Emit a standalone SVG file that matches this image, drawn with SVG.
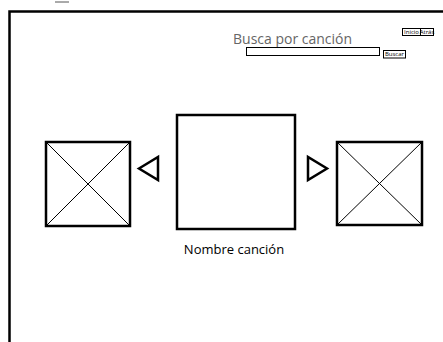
<svg xmlns="http://www.w3.org/2000/svg" width="443" height="342" viewBox="0 0 443 342">
<style>
.thick{fill:none;stroke:#000;stroke-width:2.5}
.thin{fill:none;stroke:#000;stroke-width:1}
.btn{fill:#fff;stroke:#000;stroke-width:1}
.bt{font-family:"Open Sans","Noto Sans",sans-serif;font-size:6px;fill:#000;text-anchor:middle}
</style>
<rect width="443" height="342" fill="#fff"/>
<g id="frame">
<line x1="55" y1="2" x2="69" y2="2" stroke="#555" stroke-width="1"/>
<polyline class="thick" points="9.5,342 9.5,11.5 443,11.5"/>
</g>
<g id="nav">
<rect class="btn" x="402.5" y="28.5" width="18" height="7"/>
<text class="bt" x="411.5" y="34.2">Inicio</text>
<rect class="btn" x="420.5" y="28.5" width="13" height="7"/>
<text class="bt" x="427" y="34.2">Atrás</text>
</g>
<g id="search">
<text x="233" y="44" font-family="'Open Sans','Noto Sans',sans-serif" font-size="14" fill="#666">Busca por canción</text>
<rect class="btn" x="246.5" y="47.5" width="133" height="8"/>
<rect class="btn" x="383.5" y="50.5" width="22" height="7.5"/>
<text class="bt" x="394.5" y="56.4">Buscar</text>
</g>
<g id="prev-image">
<rect class="thick" x="46" y="142" width="84" height="84"/>
<line class="thin" x1="46" y1="142" x2="130" y2="226"/>
<line class="thin" x1="130" y1="142" x2="46" y2="226"/>
</g>
<g id="prev-arrow">
<polygon class="thick" points="139,168.5 158,157 158,180"/>
</g>
<g id="current">
<rect class="thick" x="177" y="115" width="118" height="114"/>
<text x="234" y="254" font-family="'Open Sans','Noto Sans',sans-serif" font-size="13" fill="#000" text-anchor="middle">Nombre canción</text>
</g>
<g id="next-arrow">
<polygon class="thick" points="308,157 308,180 327,168.5"/>
</g>
<g id="next-image">
<rect class="thick" x="337" y="142" width="85" height="83"/>
<line class="thin" x1="337" y1="142" x2="422" y2="225"/>
<line class="thin" x1="422" y1="142" x2="337" y2="225"/>
</g>
<g id="connectors"></g>
</svg>
